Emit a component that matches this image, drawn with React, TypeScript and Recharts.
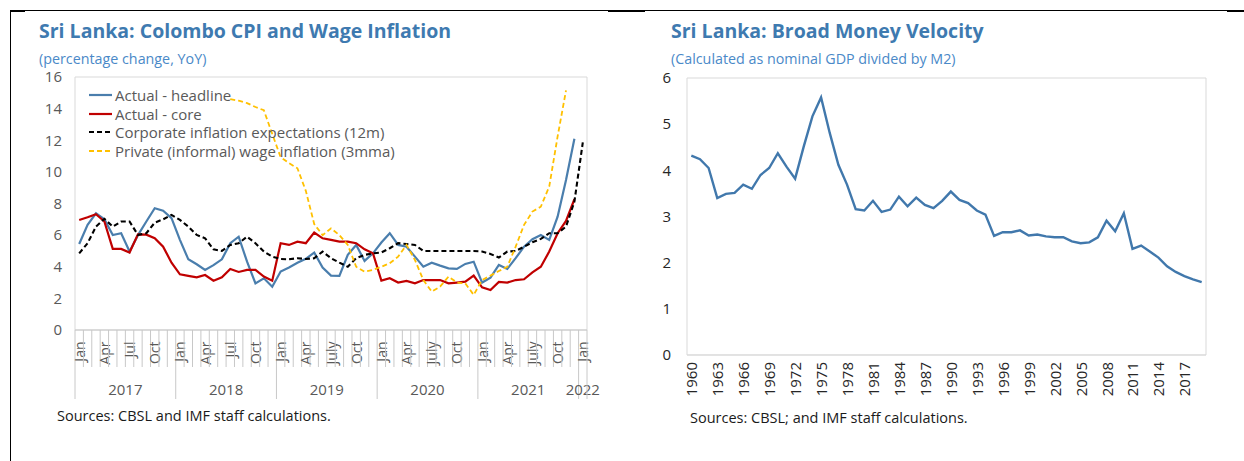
import React from 'react';
import { LineChart, Line, XAxis, YAxis, ReferenceArea, Legend } from 'recharts';

// Colombo CPI / wages, monthly Jan 2017 .. Jan 2022 (61 months)
const yearLabels = ['2017', '2018', '2019', '2020', '2021', '2022'];
const quarterLabels = [
  'Jan', 'Apr', 'Jul', 'Oct',
  'Jan', 'Apr', 'Jul', 'Oct',
  'Jan', 'Apr', 'July', 'Oct',
  'Jan', 'Apr', 'July', 'Oct',
  'Jan', 'Apr', 'July', 'Oct',
  'Jan',
];

const headline = [
  5.44, 6.65, 7.38, 7.0, 6.01, 6.12, 4.96, 6.0, 6.86, 7.7, 7.55, 7.07,
  5.7, 4.47, 4.16, 3.8, 4.1, 4.47, 5.49, 5.9, 4.32, 2.95, 3.27, 2.74,
  3.7, 3.95, 4.25, 4.5, 4.9, 3.95, 3.44, 3.42, 4.75, 5.38, 4.37, 4.85,
  5.53, 6.12, 5.38, 5.27, 4.64, 4.0, 4.26, 4.07, 3.9, 3.86, 4.18, 4.32,
  3.0, 3.31, 4.11, 3.86, 4.54, 5.27, 5.74, 6.01, 5.7, 7.17, 9.49, 12.09,
  null,
];
const core = [
  6.96, 7.13, 7.32, 6.86, 5.13, 5.13, 4.9, 6.05, 6.03, 5.8, 5.27, 4.26,
  3.52, 3.42, 3.33, 3.48, 3.12, 3.33, 3.86, 3.67, 3.8, 3.8, 3.38, 3.12,
  5.49, 5.38, 5.59, 5.49, 6.16, 5.8, 5.7, 5.59, 5.59, 5.49, 5.1, 4.85,
  3.12, 3.27, 3.0, 3.1, 2.95, 3.16, 3.16, 3.16, 2.95, 3.0, 3.06, 3.44,
  2.7, 2.53, 3.04, 3.0, 3.16, 3.21, 3.65, 4.0, 4.96, 6.12, 6.9, 8.27,
  null,
];
const expectations = [
  4.85, 5.49, 6.54, 7.03, 6.54, 6.86, 6.86, 6.01, 6.12, 6.79, 7.0, 7.28,
  6.96, 6.54, 6.01, 5.8, 5.1, 5.0, 5.38, 5.49, 5.9, 5.49, 4.96, 4.64,
  4.49, 4.47, 4.54, 4.49, 4.54, 4.96, 4.54, 4.26, 4.0, 4.54, 4.75, 4.85,
  4.9, 5.17, 5.49, 5.44, 5.38, 5.0, 5.0, 5.0, 5.0, 5.0, 5.0, 5.0,
  4.96, 4.81, 4.58, 4.96, 5.0, 5.27, 5.55, 5.76, 6.12, 6.12, 6.54, 8.12,
  11.86,
];
const wages = [
  null, null, null, null, null, null, null, null, null, null, null, null,
  null, null, null, null, null, null, 14.6, 14.5, 14.35, 14.1, 13.9, 12.4,
  10.93, 10.55, 10.23, 8.8, 6.7, 6.0, 6.43, 6.0, 5.38, 4.0, 3.69, 3.8,
  4.0, 4.22, 4.64, 5.38, 4.43, 3.16, 2.43, 2.74, 3.38, 3.0, 2.95, 2.22,
  3.16, 3.44, 3.73, 4.0, 5.27, 6.65, 7.49, 7.8, 9.07, 12.24, 15.15, null,
  null,
];
const cpiTicks = [0, 2, 4, 6, 8, 10, 12, 14, 16];

// Broad money velocity, 1960 .. 2019
const firstYear = 1960;
const velocity = [
  4.32, 4.24, 4.05, 3.4, 3.49, 3.51, 3.69, 3.6, 3.9, 4.05,
  4.37, 4.08, 3.82, 4.52, 5.17, 5.58, 4.81, 4.12, 3.69, 3.16,
  3.13, 3.34, 3.1, 3.15, 3.43, 3.22, 3.41, 3.25, 3.18, 3.34,
  3.54, 3.36, 3.29, 3.13, 3.04, 2.58, 2.66, 2.66, 2.7, 2.59,
  2.61, 2.57, 2.55, 2.55, 2.46, 2.42, 2.44, 2.55, 2.91, 2.68,
  3.07, 2.3, 2.37, 2.24, 2.11, 1.92, 1.8, 1.71, 1.64, 1.58,
];
const velocityTicks = [0, 1, 2, 3, 4, 5, 6];

const series = [
  { key: 'headline', name: 'Actual - headline', color: '#4A7EAD', dash: undefined, width: 2.2 },
  { key: 'core', name: 'Actual - core', color: '#C00000', dash: undefined, width: 2.2 },
  { key: 'expectations', name: 'Corporate inflation expectations (12m)', color: '#000000', dash: '5 3', width: 2.1 },
  { key: 'wages', name: 'Private (informal) wage inflation (3mma)', color: '#FFC000', dash: '5 3', width: 1.8 },
];

const cpiData = headline.map((v, i) => ({
  i,
  headline: v,
  core: core[i],
  expectations: expectations[i],
  wages: wages[i],
}));
const velocityData = velocity.map((v, k) => ({ year: firstYear + k, v }));

const monthBounds = cpiData.map((d) => d.i - 0.5).concat([cpiData.length - 0.5]);
const yearTicks = velocityData.filter((d, k) => k % 3 === 0 && k < 58).map((d) => d.year);

const TXT = '#595959';
const FRAME = '#D9D9D9';
const FONT = '"Open Sans", "DejaVu Sans", sans-serif';
const LEFT_PLOT_W = 512;
const BAND = LEFT_PLOT_W / cpiData.length;

function MonthTick(props: any) {
  const { x, y, payload } = props;
  const b = Math.round(payload.value + 0.5);
  const n = cpiData.length;
  const isYear = b % 12 === 0 || b === n;
  const cx = x + BAND / 2;
  const ly = y + 11.5;
  return (
    <g>
      <line x1={x} x2={x} y1={y} y2={y + (isYear ? 69 : 37)} stroke="#C8C8C8" strokeWidth={1} />
      {b < n && b % 3 === 0 && (
        <text
          x={cx}
          y={ly}
          transform={`rotate(-90, ${cx}, ${ly})`}
          textAnchor="end"
          dominantBaseline="central"
          fontSize={14}
          fill={TXT}
          fontFamily={FONT}
        >
          {quarterLabels[b / 3]}
        </text>
      )}
      {b < n && b % 12 === 0 && (
        <text
          x={x + (Math.min(12, n - b) * BAND) / 2}
          y={y + 59}
          textAnchor="middle"
          dominantBaseline="central"
          fontSize={15}
          fill={TXT}
          fontFamily={FONT}
        >
          {yearLabels[b / 12]}
        </text>
      )}
    </g>
  );
}

function YearTick(props: any) {
  const { x, y, payload } = props;
  const ty = y + 7;
  return (
    <text
      x={x}
      y={ty}
      transform={`rotate(-90, ${x}, ${ty})`}
      textAnchor="end"
      dominantBaseline="central"
      fontSize={15}
      fill="#262626"
      fontFamily={FONT}
    >
      {payload.value}
    </text>
  );
}

function CpiLegend() {
  return (
    <div style={{ fontFamily: FONT, fontSize: 15, color: TXT }}>
      {series.map((s) => (
        <div key={s.key} style={{ display: 'flex', alignItems: 'center', height: 18.7, whiteSpace: 'nowrap' }}>
          <svg width={26} height={10} style={{ marginRight: 1 }}>
            <line x1={1} x2={24} y1={5} y2={5} stroke={s.color} strokeWidth={s.width} strokeDasharray={s.dash} />
          </svg>
          <span>{s.name}</span>
        </div>
      ))}
    </div>
  );
}

export default function App() {
  return (
    <div
      style={{
        position: 'absolute',
        left: 0,
        top: 0,
        width: 1244,
        height: 461,
        background: '#fff',
        overflow: 'hidden',
        fontFamily: FONT,
      }}
    >
      {/* outer frame */}
      <div style={{ position: 'absolute', left: 10, top: 10, width: 1234, height: 451, borderTop: '1px solid #000', borderLeft: '1.5px solid #000' }} />
      <div style={{ position: 'absolute', left: 10, top: 10, width: 15, height: 2, background: '#000' }} />
      <div style={{ position: 'absolute', left: 608, top: 10, width: 37, height: 2, background: '#000' }} />
      <div style={{ position: 'absolute', left: 1227, top: 10, width: 17, height: 2, background: '#000' }} />

      <svg width={1244} height={461} style={{ position: 'absolute', left: 0, top: 0 }}>
        <text x={39} y={38} fontSize={19.5} fontWeight={700} fill="#3E7AB0" fontFamily={FONT}>
          Sri Lanka: Colombo CPI and Wage Inflation
        </text>
        <text x={39} y={63.5} fontSize={14.3} fill="#4A89C8" fontFamily={FONT}>
          (percentage change, YoY)
        </text>
        <text x={57} y={421} fontSize={14.5} fill="#1A1A1A" fontFamily={FONT}>
          Sources: CBSL and IMF staff calculations.
        </text>
        <text x={671} y={38} fontSize={19.5} fontWeight={700} fill="#3E7AB0" fontFamily={FONT}>
          Sri Lanka: Broad Money Velocity
        </text>
        <text x={671} y={63.5} fontSize={14.3} fill="#4A89C8" fontFamily={FONT}>
          (Calculated as nominal GDP divided by M2)
        </text>
        <text x={690} y={423} fontSize={14.5} fill="#1A1A1A" fontFamily={FONT}>
          Sources: CBSL; and IMF staff calculations.
        </text>
      </svg>

      <div style={{ position: 'absolute', left: 0, top: 0 }}>
        <LineChart width={620} height={461} data={cpiData} margin={{ top: 77, right: 33, bottom: 61, left: 35 }}>
          <ReferenceArea x1={-0.5} x2={cpiData.length - 0.5} y1={0} y2={16} fill="none" stroke={FRAME} strokeWidth={1} />
          <XAxis
            dataKey="i"
            type="number"
            domain={[-0.5, cpiData.length - 0.5]}
            ticks={monthBounds}
            interval={0}
            height={70}
            tickSize={0}
            tickMargin={0}
            tickLine={false}
            axisLine={{ stroke: '#C8C8C8' }}
            tick={<MonthTick />}
          />
          <YAxis
            type="number"
            domain={[0, 16]}
            ticks={cpiTicks}
            interval={0}
            width={40}
            axisLine={false}
            tickLine={false}
            tickSize={0}
            tickMargin={13}
            tick={{ fontSize: 15, fill: TXT, fontFamily: FONT }}
          />
          <Legend
            layout="vertical"
            align="center"
            verticalAlign="middle"
            wrapperStyle={{ left: 88, top: 85.5, width: 340 }}
            content={() => <CpiLegend />}
          />
          {series.map((s) => (
            <Line
              key={s.key}
              dataKey={s.key}
              name={s.name}
              stroke={s.color}
              strokeWidth={s.width}
              strokeDasharray={s.dash}
              dot={false}
              connectNulls={false}
              isAnimationActive={false}
            />
          ))}
        </LineChart>
      </div>

      <div style={{ position: 'absolute', left: 620, top: 0 }}>
        <LineChart width={624} height={461} data={velocityData} margin={{ top: 78, right: 38, bottom: 56, left: 27 }}>
          <ReferenceArea x1={firstYear - 0.5} x2={firstYear + velocity.length - 0.5} y1={0} y2={6} fill="none" stroke={FRAME} strokeWidth={1} />
          <XAxis
            dataKey="year"
            type="number"
            domain={[firstYear - 0.5, firstYear + velocity.length - 0.5]}
            ticks={yearTicks}
            interval={0}
            height={50}
            tickSize={0}
            tickMargin={0}
            tickLine={false}
            axisLine={{ stroke: FRAME }}
            tick={<YearTick />}
          />
          <YAxis
            type="number"
            domain={[0, 6]}
            ticks={velocityTicks}
            interval={0}
            width={40}
            axisLine={false}
            tickLine={false}
            tickSize={0}
            tickMargin={16}
            tick={{ fontSize: 15, fill: '#262626', fontFamily: FONT }}
          />
          <Line dataKey="v" stroke="#4178AC" strokeWidth={2.4} dot={false} isAnimationActive={false} />
        </LineChart>
      </div>
    </div>
  );
}
